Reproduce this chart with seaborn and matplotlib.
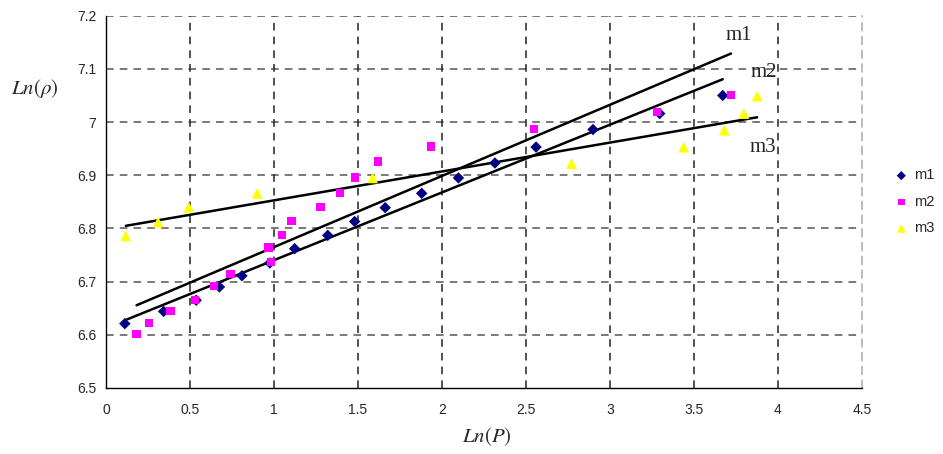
import numpy as np
import pandas as pd
import matplotlib
matplotlib.use("Agg")
import matplotlib.pyplot as plt
import seaborn as sns

# ---- data ----
m1_x = [0.112, 0.343, 0.537, 0.675, 0.809, 0.975, 1.123, 1.320, 1.480, 1.662, 1.879, 2.098, 2.315, 2.560, 2.899, 3.296, 3.671]
m1_y = [6.621, 6.644, 6.665, 6.690, 6.711, 6.735, 6.762, 6.787, 6.813, 6.839, 6.866, 6.895, 6.923, 6.953, 6.986, 7.016, 7.050]

m2_x = [0.182, 0.257, 0.383, 0.529, 0.643, 0.742, 0.981, 0.967, 1.046, 1.105, 1.277, 1.393, 1.482, 1.618, 1.936, 2.546, 3.280, 3.720]
m2_y = [6.602, 6.622, 6.645, 6.666, 6.692, 6.714, 6.737, 6.764, 6.788, 6.814, 6.840, 6.867, 6.896, 6.926, 6.954, 6.987, 7.019, 7.051]

m3_x = [0.118, 0.310, 0.493, 0.900, 1.587, 2.771, 3.438, 3.681, 3.797, 3.876]
m3_y = [6.786, 6.812, 6.840, 6.866, 6.895, 6.922, 6.953, 6.985, 7.016, 7.049]

series_names = ["m1", "m2", "m3"]
x_ticks = [0, 0.5, 1, 1.5, 2, 2.5, 3, 3.5, 4, 4.5]
x_tick_labels = ["0", "0.5", "1", "1.5", "2", "2.5", "3", "3.5", "4", "4.5"]
y_ticks = [6.5, 6.6, 6.7, 6.8, 6.9, 7.0, 7.1, 7.2]
y_tick_labels = ["6.5", "6.6", "6.7", "6.8", "6.9", "7", "7.1", "7.2"]

# ---- build table ----
df = pd.concat([
    pd.DataFrame({"x": m1_x, "y": m1_y, "series": "m1"}),
    pd.DataFrame({"x": m2_x, "y": m2_y, "series": "m2"}),
    pd.DataFrame({"x": m3_x, "y": m3_y, "series": "m3"}),
], ignore_index=True)

sns.set_style("white")
plt.rcParams["font.family"] = ["Liberation Sans", "DejaVu Sans"]
plt.rcParams["mathtext.fontset"] = "stix"

fig = plt.figure(figsize=(9.43, 4.54), dpi=100)
ax = fig.add_axes([106 / 943, 1 - 388 / 454, (862 - 106) / 943, (388 - 15.7) / 454])

palette = {"m1": "#000080", "m2": "#FF00FF", "m3": "#FFFF00"}
markers = {"m1": "D", "m2": "s", "m3": "^"}
sizes = {"m1": 34, "m2": 36, "m3": 60}

# trend lines (linear least-squares fits, like spreadsheet trendlines)
for name, xs, ys in [("m1", m1_x, m1_y), ("m2", m2_x, m2_y), ("m3", m3_x, m3_y)]:
    xs = np.asarray(xs); ys = np.asarray(ys)
    k, b = np.polyfit(xs, ys, 1)
    xl = np.array([xs.min(), xs.max()])
    sns.lineplot(x=xl, y=k * xl + b, ax=ax, color="black", linewidth=1.8, zorder=2)

for name in series_names:
    sub = df[df["series"] == name]
    sns.scatterplot(data=sub, x="x", y="y", ax=ax, color=palette[name], marker=markers[name],
                    s=sizes[name], edgecolor="none", linewidth=0, label=name, zorder=3)

ax.set_xlim(0, 4.5)
ax.set_ylim(6.5, 7.2)
ax.set_xticks(x_ticks)
ax.set_xticklabels(x_tick_labels)
ax.set_yticks(y_ticks)
ax.set_yticklabels(y_tick_labels)
ax.tick_params(axis="both", labelsize=10, direction="inout", length=6, width=0.9, color="black")
ax.tick_params(axis="x", pad=8)
ax.tick_params(axis="y", pad=4)

# grid
for yv in y_ticks[1:]:
    ax.axhline(yv, color="#555555", linestyle=(0, (5, 4)), linewidth=1.1, zorder=0)
for xv in x_ticks[1:-1]:
    ax.axvline(xv, color="#222222", linestyle=(0, (5, 4)), linewidth=1.1, zorder=0)

ax.spines["top"].set_visible(False)
ax.spines["right"].set_color("#AAAAAA")
ax.spines["right"].set_linestyle((0, (5, 4)))
ax.spines["right"].set_linewidth(1.1)
ax.spines["left"].set_color("black")
ax.spines["bottom"].set_color("black")
ax.spines["left"].set_linewidth(1.0)
ax.spines["bottom"].set_linewidth(1.0)

ax.set_xlabel("")
ax.set_ylabel("")
fig.text(487 / 943, 1 - 437 / 454, r"$Ln(P)$", ha="center", va="center", fontsize=15)
fig.text(35 / 943, 1 - 88 / 454, r"$Ln(\rho)$", ha="center", va="center", fontsize=15)

# line labels
label_font = dict(family=["Liberation Serif", "DejaVu Serif"], fontsize=15, ha="center", va="center")
ax.text(3.766, 7.162, "m1", **label_font)
ax.text(3.914, 7.094, "m2", **label_font)
ax.text(3.908, 6.953, "m3", **label_font)

leg = ax.legend(loc="center left", bbox_to_anchor=((894 - 106) / 756, 0.5), frameon=False,
                fontsize=10.5, handlelength=1.0, handletextpad=0.4, labelspacing=0.85,
                markerscale=0.8, borderaxespad=0, borderpad=0)

fig.savefig("out.png", dpi=100)
